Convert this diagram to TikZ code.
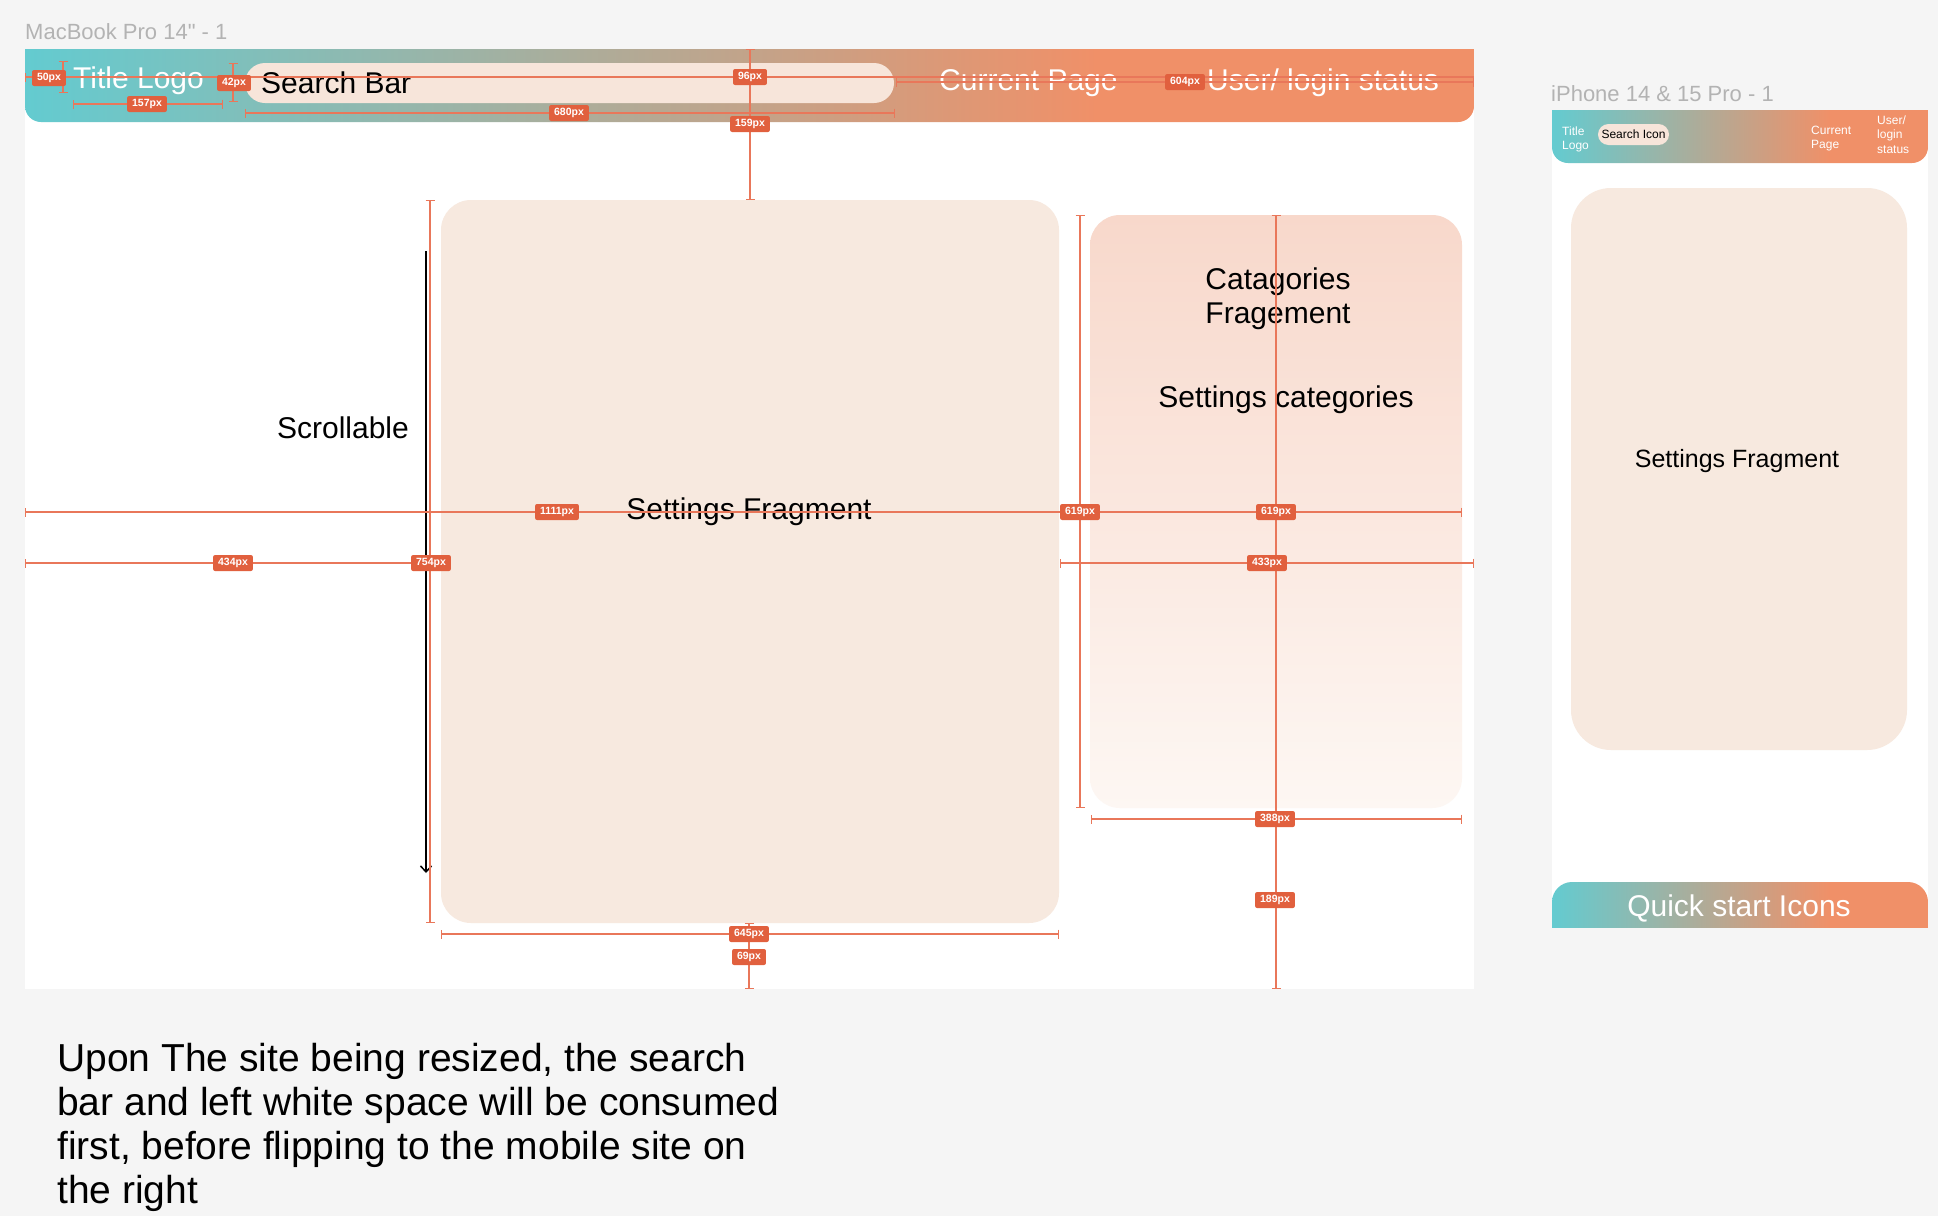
\documentclass[tikz,border=0pt]{standalone}
\usepackage{fontspec}
\setmainfont{Liberation Sans}[Ligatures=TeXOff]
\usetikzlibrary{positioning,arrows.meta}

\definecolor{canvasgray}{HTML}{F5F5F5}
\definecolor{labelgray}{HTML}{B3B3B3}
\definecolor{headteal}{HTML}{63CBD0}
\definecolor{headorange}{HTML}{F09068}
\definecolor{fragfill}{HTML}{F7E9DF}
\definecolor{pillfill}{HTML}{F7E5DA}
\definecolor{cattop}{HTML}{F8D8CB}
\definecolor{catbottom}{HTML}{FDF7F3}
\definecolor{dimred}{HTML}{E1603E}
\definecolor{dimline}{HTML}{E9775A}

\pgfdeclarehorizontalshading{headshade}{100bp}{color(0bp)=(headteal); color(25bp)=(headteal); color(62bp)=(headorange); color(100bp)=(headorange)}

\begin{document}
\begin{tikzpicture}[x=1pt, y=-1pt]
    \tikzstyle{fragbox}=[rectangle, fill=fragfill, rounded corners=30pt, inner sep=0pt]
    \tikzstyle{catbox}=[rectangle, top color=cattop, bottom color=catbottom, rounded corners=30pt, inner sep=0pt]
    \tikzstyle{pill}=[rectangle, fill=pillfill, inner sep=0pt]
    \tikzstyle{framename}=[text=labelgray, inner sep=0pt, font=\fontsize{22}{26}\selectfont]
    \tikzstyle{headtext}=[text=white, inner sep=0pt, font=\fontsize{30}{36}\selectfont]
    \tikzstyle{bodytext}=[text=black, inner sep=0pt, font=\fontsize{30}{34}\selectfont]
    \tikzstyle{tinytext}=[text=white, inner sep=0pt, align=left, font=\fontsize{12}{14.5}\selectfont]
    \tikzstyle{dimbar}=[draw=dimline, line width=1.2pt, arrows={Bar[width=9pt]-Bar[width=9pt]}]
    \tikzstyle{dimtag}=[fill=dimred, text=white, rounded corners=2pt, inner xsep=5pt, inner ysep=0pt, minimum height=16pt, font=\bfseries\fontsize{10.5}{12}\selectfont]
    \tikzstyle{scrollarrow}=[draw=black, line width=1.5pt, arrows={-Straight Barb[length=6pt,width=11pt]}]

    % Canvas
    \useasboundingbox (0,0) rectangle (1938,1216);
    \fill[canvasgray] (0,0) rectangle (1938,1216);
    \node[framename, anchor=base west] (macname) at (25,39) {MacBook Pro 14" - 1};
    \node[framename, anchor=base west] (phonename) at (1551,101) {iPhone 14 \& 15 Pro - 1};

    % Desktop frame
    \fill[white] (25,49) rectangle (1474,989);
    \begin{scope}
        \clip[rounded corners=16pt] (25,20) rectangle (1474,122);
        \shade[shading=headshade] (25,49) rectangle (1474,122);
    \end{scope}
    \node[pill, rounded corners=20pt, minimum width=649pt, minimum height=40pt] (search) at (569.5,83) {};
    \node[headtext, anchor=base west] (titlelogo) at (73,88) {Title Logo};
    \node[bodytext, anchor=base west] (searchtext) at (261,93) {Search Bar};
    \node[headtext, anchor=base west] (currentpage) at (939,90) {Current Page};
    \node[headtext, anchor=base west] (userstatus) at (1207,90) {User/ login status};

    % Desktop fragments
    \node[fragbox, minimum width=618pt, minimum height=723pt] (settings) at (750,561.5) {};
    \node[catbox, minimum width=372pt, minimum height=593pt] (categories) at (1276,511.5) {};
    \node[bodytext] (settingstext) at (749,512) {Settings Fragment};
    \node[bodytext, align=center] (cattext) at (1278,299) {Catagories\\Fragement};
    \node[bodytext] (catlist) at (1286,400) {Settings categories};
    \node[bodytext] (scrolltext) at (343,428) {Scrollable};
    \coordinate (scrolltop) at (426,251);
    \coordinate (scrollend) at (426,873);
    \draw[scrollarrow] (scrolltop) -- (scrollend);

    % Mobile frame
    \fill[white] (1552,110) rectangle (1928,927);
    \begin{scope}
        \clip[rounded corners=16pt] (1552,80) rectangle (1928,163);
        \shade[shading=headshade] (1552,110) rectangle (1928,163);
    \end{scope}
    \begin{scope}
        \clip[rounded corners=20pt] (1552,882) rectangle (1928,960);
        \shade[shading=headshade] (1552,882) rectangle (1928,927);
    \end{scope}
    \node[tinytext, anchor=north west] (mtitle) at (1562,126.5) {Title\\Logo};
    \node[pill, rounded corners=10.5pt, minimum width=71pt, minimum height=21pt, font=\fontsize{12}{14}\selectfont] (searchicon) at (1633.5,134.5) {Search Icon};
    \node[tinytext, anchor=north west] (mpage) at (1811,125.5) {Current\\Page};
    \node[tinytext, anchor=north west] (muser) at (1877,115.5) {User/\\login\\status};
    \node[fragbox, rounded corners=40pt, minimum width=336pt, minimum height=562pt] (msettings) at (1739,469) {};
    \node[bodytext, font=\fontsize{25}{30}\selectfont] (msettingstext) at (1737,461) {Settings Fragment};
    \node[headtext] (quicktext) at (1739,908) {Quick start Icons};

    % Note
    \node[anchor=north west, align=left, inner sep=0pt, font=\fontsize{39}{44}\selectfont] (note) at (57,1043) {Upon The site being resized, the search\\bar and left white space will be consumed\\first, before flipping to the mobile site on\\the right};

    % Header measurements
    \coordinate (ha) at (25,77);
    \coordinate (hb) at (1474,77);
    \coordinate (ua) at (896,82);
    \coordinate (ub) at (1474,82);
    \coordinate (la) at (63,61);
    \coordinate (lb) at (63,93);
    \coordinate (sa) at (233,63);
    \coordinate (sb) at (233,102);
    \coordinate (ta) at (73,104);
    \coordinate (tb) at (223,104);
    \coordinate (fa) at (245,113);
    \coordinate (fb) at (895,113);
    \coordinate (ga) at (750,49);
    \coordinate (gb) at (750,200);
    \draw[draw=dimline, line width=1.2pt, arrows={Bar[width=9pt]-}] (ha) -- (hb);
    \draw[dimbar] (ua) -- (ub);
    \draw[dimbar] (la) -- (lb);
    \draw[dimbar] (sa) -- (sb);
    \draw[dimbar] (ta) -- (tb);
    \draw[dimbar] (fa) -- (fb);
    \draw[dimbar] (ga) -- (gb);

    % Body measurements
    \coordinate (wa) at (25,512);
    \coordinate (wb) at (1462,512);
    \coordinate (ma) at (25,563);
    \coordinate (mb) at (441,563);
    \coordinate (na) at (1060,563);
    \coordinate (nb) at (1474,563);
    \coordinate (ka) at (430,200);
    \coordinate (kb) at (430,923);
    \coordinate (ca) at (1080,215);
    \coordinate (cb) at (1080,808);
    \coordinate (va) at (1276,215);
    \coordinate (vb) at (1276,989);
    \coordinate (ra) at (1091,819);
    \coordinate (rb) at (1462,819);
    \coordinate (oa) at (441,934);
    \coordinate (ob) at (1059,934);
    \coordinate (pa) at (749,923);
    \coordinate (pb) at (749,989);
    \draw[dimbar] (wa) -- (wb);
    \draw[dimbar] (ma) -- (mb);
    \draw[dimbar] (na) -- (nb);
    \draw[dimbar] (ka) -- (kb);
    \draw[dimbar] (ca) -- (cb);
    \draw[dimbar] (va) -- (vb);
    \draw[dimbar] (ra) -- (rb);
    \draw[dimbar] (oa) -- (ob);
    \draw[dimbar] (pa) -- (pb);

    % Measurement tags
    \node[dimtag] (d50) at (49,78) {50px};
    \node[dimtag] (d42) at (234,83) {42px};
    \node[dimtag] (d157) at (147,104) {157px};
    \node[dimtag] (d680) at (569,113) {680px};
    \node[dimtag] (d96) at (750,77) {96px};
    \node[dimtag] (d159) at (750,124) {159px};
    \node[dimtag] (d604) at (1185,82) {604px};
    \node[dimtag] (d1111) at (557,512) {1111px};
    \node[dimtag] (d619a) at (1080,512) {619px};
    \node[dimtag] (d619b) at (1276,512) {619px};
    \node[dimtag] (d434) at (233,563) {434px};
    \node[dimtag] (d754) at (431,563) {754px};
    \node[dimtag] (d433) at (1267,563) {433px};
    \node[dimtag] (d388) at (1275,819) {388px};
    \node[dimtag] (d189) at (1275,900) {189px};
    \node[dimtag] (d645) at (749,934) {645px};
    \node[dimtag] (d69) at (749,957) {69px};
\end{tikzpicture}
\end{document}
